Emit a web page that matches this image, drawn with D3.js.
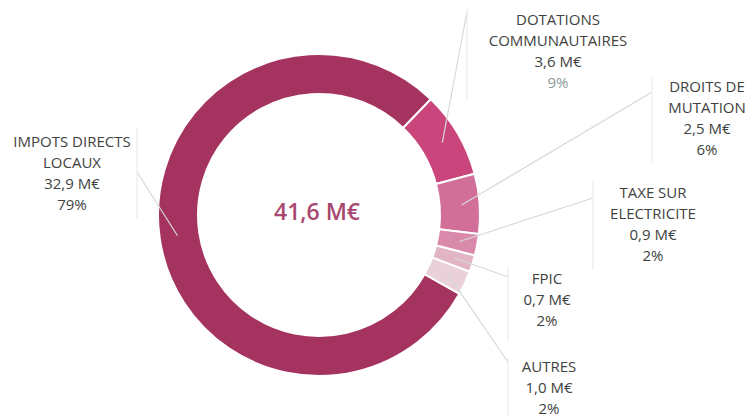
<!DOCTYPE html>
<html>
<head>
<meta charset="utf-8">
<script src="https://cdn.jsdelivr.net/npm/d3@7"></script>
<style>
  body { margin: 0; background: #fff; }
  svg { display: block; }
  text { font-family: "Open Sans", Lato, sans-serif; }
</style>
</head>
<body>
<script>
// Data
const categories = ["IMPOTS DIRECTS LOCAUX", "DOTATIONS COMMUNAUTAIRES", "DROITS DE MUTATION", "TAXE SUR ELECTRICITE", "FPIC", "AUTRES"];
const values = [32.9, 3.6, 2.5, 0.9, 0.7, 1.0];
const valueLabels = ["32,9 M€", "3,6 M€", "2,5 M€", "0,9 M€", "0,7 M€", "1,0 M€"];
const percentLabels = ["79%", "9%", "6%", "2%", "2%", "2%"];
const labelLines = [["IMPOTS DIRECTS", "LOCAUX"], ["DOTATIONS", "COMMUNAUTAIRES"], ["DROITS DE", "MUTATION"], ["TAXE SUR", "ELECTRICITE"], ["FPIC"], ["AUTRES"]];
const totalLabel = "41,6 M€";

//   Parameters
const w = 749;
const h = 417;
const cx = 319;
const cy = 215;
const outerR = 161;
const innerR = 121;
const colors = ["#a5335f", "#c9457b", "#d26f98", "#d98aab", "#e2b5c6", "#ead0d9"];

// label layout: text center x, first line y, leader end, vertical line extent
const labelPos = [
  { x: 72, y: 143, lx: 137, ly: 172, v: [128, 218] },
  { x: 558, y: 21, lx: 467, ly: 12, v: [8, 100] },
  { x: 707, y: 88, lx: 652, ly: 92, v: [77, 163] },
  { x: 653, y: 194, lx: 593, ly: 198, v: [180, 270] },
  { x: 547, y: 280, lx: 508, ly: 277, v: [268, 340] },
  { x: 549, y: 368, lx: 508, ly: 362, v: [358, 417] }
];
const lineH = 21;

const svg = d3.select("body").append("svg").attr("width", w).attr("height", h);
svg.append("rect").attr("width", w).attr("height", h).attr("fill", "#fff");

const a0 = (44 / 180) * Math.PI - (values[0] / d3.sum(values)) * 2 * Math.PI;
const pie = d3.pie().sort(null).startAngle(a0).endAngle(a0 + 2 * Math.PI);
const arcs = pie(values);
const arc = d3.arc().innerRadius(innerR).outerRadius(outerR);

const g = svg.append("g").attr("transform", `translate(${cx},${cy})`);

g.selectAll("path")
  .data(arcs)
  .enter()
  .append("path")
  .attr("d", arc)
  .attr("fill", (d, i) => colors[i])
  .attr("stroke", "#fff")
  .attr("stroke-width", 2);

// leader lines
const lines = svg.append("g").attr("stroke", "#d8d8d8").attr("stroke-width", 1.2).attr("fill", "none");
arcs.forEach((d, i) => {
  const m = (d.startAngle + d.endAngle) / 2;
  const r = 143;
  const sx = cx + r * Math.sin(m);
  const sy = cy - r * Math.cos(m);
  const p = labelPos[i];
  lines.append("line").attr("x1", sx).attr("y1", sy).attr("x2", p.lx).attr("y2", p.ly);
  lines.append("line").attr("x1", p.lx).attr("y1", p.v[0]).attr("x2", p.lx).attr("y2", p.v[1])
    .attr("stroke", "#ececec");
});

// labels
categories.forEach((c, i) => {
  const p = labelPos[i];
  const rows = labelLines[i].concat([valueLabels[i], percentLabels[i]]);
  const t = svg.append("text")
    .attr("text-anchor", "middle")
    .attr("font-size", 15)
    .attr("fill", "#3e4240");
  rows.forEach((r, j) => {
    t.append("tspan")
      .attr("x", p.x)
      .attr("y", p.y + j * lineH)
      .attr("dominant-baseline", "middle")
      .attr("fill", i === 1 && j === rows.length - 1 ? "#8a9a96" : null)
      .text(r);
  });
});

// total in the middle
svg.append("text")
  .attr("x", cx - 2)
  .attr("y", cy - 1)
  .attr("text-anchor", "middle")
  .attr("dominant-baseline", "middle")
  .attr("font-size", 23)
  .attr("font-weight", 600)
  .attr("fill", "#a8476f")
  .text(totalLabel);
</script>
</body>
</html>
